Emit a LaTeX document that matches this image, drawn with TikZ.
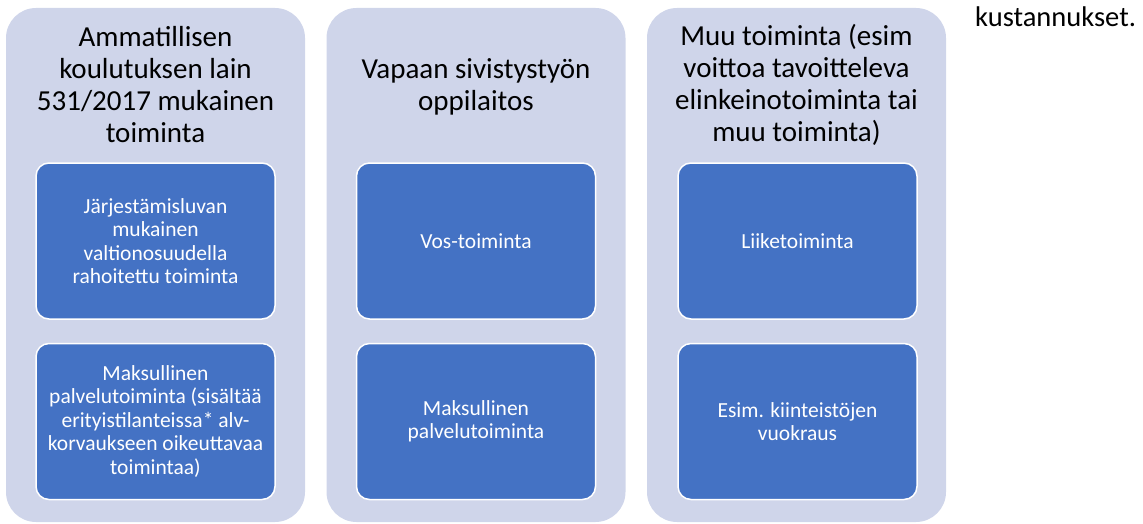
\documentclass[tikz,border=0pt]{standalone}
\usepackage{fontspec}
\setmainfont{Carlito}
\definecolor{panelbg}{HTML}{CFD5EA}
\definecolor{itemblue}{HTML}{4472C4}
\begin{document}
\begin{tikzpicture}[x=1pt, y=-1pt,
  panel/.style={fill=panelbg, draw=none, rounded corners=30pt, minimum width=299pt, minimum height=514pt, inner sep=0pt},
  item/.style={fill=itemblue, draw=white, line width=1.5pt, rounded corners=13pt, minimum width=239pt, minimum height=156pt, text=white, font=\fontsize{21.5}{23.5}\selectfont, align=center, inner sep=2pt},
  head/.style={font=\fontsize{29}{32}\selectfont, align=center, text=black, inner sep=0pt}
]
  \useasboundingbox (0,0) rectangle (1143,524);
  % three columns: panel, heading, two boxes
  \node[panel] (c1) at (155.5,265) {};
  \node[head] (h1) at (155.5,85) {Ammatillisen\\koulutuksen lain\\531/2017 mukainen\\toiminta};
  \node[item] (a1) at (155.5,241) {Järjestämisluvan\\mukainen\\valtionosuudella\\rahoitettu toiminta};
  \node[item] (a2) at (155.5,421.5) {Maksullinen\\palvelutoiminta (sisältää\\erityistilanteissa* alv-\\korvaukseen oikeuttavaa\\toimintaa)};

  \node[panel] (c2) at (476,265) {};
  \node[head] (h2) at (476,87) {Vapaan sivistystyön\\oppilaitos};
  \node[item] (b1) at (476,241) {Vos-toiminta};
  \node[item] (b2) at (476,421.5) {Maksullinen\\palvelutoiminta};

  \node[panel] (c3) at (796.5,265) {};
  \node[head] (h3) at (796.5,85) {Muu toiminta (esim\\voittoa tavoitteleva\\elinkeinotoiminta tai\\muu toiminta)};
  \node[item] (d1) at (797.5,241) {Liiketoiminta};
  \node[item] (d2) at (797.5,421.5) {Esim. kiinteistöjen\\vuokraus};

  % stray text at the top right
  \node[head, font=\fontsize{28.5}{32}\selectfont, anchor=base west] (tail) at (975,27) {kustannukset.};
\end{tikzpicture}
\end{document}
